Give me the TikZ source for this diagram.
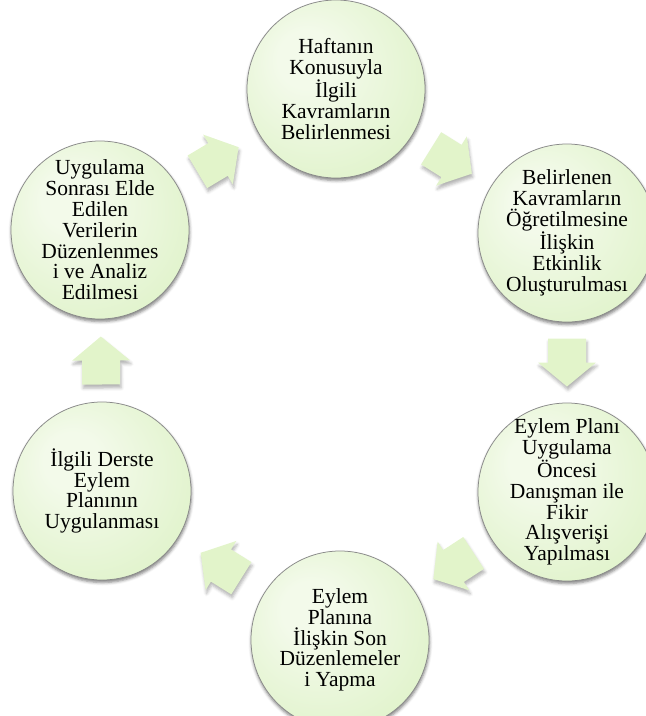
\documentclass[tikz,border=0pt]{standalone}
\usepackage{fontspec}
\setmainfont{Liberation Serif}
\usetikzlibrary{calc,shadows.blur}

\definecolor{circin}{HTML}{F3FAEA}
\definecolor{circout}{HTML}{D6EFBA}
\definecolor{rimgray}{HTML}{8A8A8A}
\definecolor{arrowgreen}{HTML}{E2F4CA}

% soft glow, lighter towards the upper left
\pgfdeclareradialshading{stepglow}{\pgfpoint{-10bp}{10bp}}{%
  color(0bp)=(circin); color(8bp)=(circin); color(46bp)=(circout); color(50bp)=(circout)}

\tikzset{
  stepcircle/.style={circle, minimum size=178pt, inner sep=0pt, draw=rimgray,
    line width=0.75pt, shading=stepglow,
    blur shadow={shadow xshift=0.5pt, shadow yshift=-2.5pt, shadow blur radius=3pt, shadow opacity=50}},
  steptext/.style={align=center, inner sep=0pt, font=\fontsize{21.5}{20.8}\selectfont},
  arrowbody/.style={fill=arrowgreen,
    blur shadow={shadow xshift=1pt, shadow yshift=-3.5pt, shadow blur radius=3pt, shadow opacity=30}}
}

% block arrow half way between two steps, pointing from #1 to #2
\newcommand\cyclearrow[2]{%
  \fill[arrowbody] let \p1=(#1.center), \p2=(#2.center),
      \n1={atan2(\y2-\y1,\x2-\x1)}, \p3=($(\p1)!0.5!(\p2)$) in
    ($(\p3)+(\n1+180:24pt)+(\n1+90:19pt)$) -- ($(\p3)+(\n1+90:19pt)$)
    -- ($(\p3)+(\n1+90:29pt)$) -- ($(\p3)+(\n1:24pt)$)
    -- ($(\p3)+(\n1-90:29pt)$) -- ($(\p3)+(\n1-90:19pt)$)
    -- ($(\p3)+(\n1+180:24pt)+(\n1-90:19pt)$) -- cycle;}

\begin{document}
\begin{tikzpicture}[x=1pt, y=-1pt]
\useasboundingbox (0,0) rectangle (646,716);

\node[stepcircle] (s1) at (336,89) {};
\node[stepcircle] (s2) at (567,233) {};
\node[stepcircle] (s3) at (567,492) {};
\node[stepcircle] (s4) at (340,640) {};
\node[stepcircle] (s5) at (102,491) {};
\node[stepcircle] (s6) at (100,230) {};

\node[steptext] at (s1) {Haftanın\\Konusuyla\\İlgili\\Kavramların\\Belirlenmesi};
\node[steptext] at (s2) {Belirlenen\\Kavramların\\Öğretilmesine\\İlişkin\\Etkinlik\\Oluşturulması};
\node[steptext] at (s3) {Eylem Planı\\Uygulama\\Öncesi\\Danışman ile\\Fikir\\Alışverişi\\Yapılması};
\node[steptext] at (s4) {Eylem\\Planına\\İlişkin Son\\Düzenlemeler\\i Yapma};
\node[steptext] at (s5) {İlgili Derste\\Eylem\\Planının\\Uygulanması};
\node[steptext] at (s6) {Uygulama\\Sonrası Elde\\Edilen\\Verilerin\\Düzenlenmes\\i ve Analiz\\Edilmesi};

\cyclearrow{s1}{s2}
\cyclearrow{s2}{s3}
\cyclearrow{s3}{s4}
\cyclearrow{s4}{s5}
\cyclearrow{s5}{s6}
\cyclearrow{s6}{s1}
\end{tikzpicture}
\end{document}
